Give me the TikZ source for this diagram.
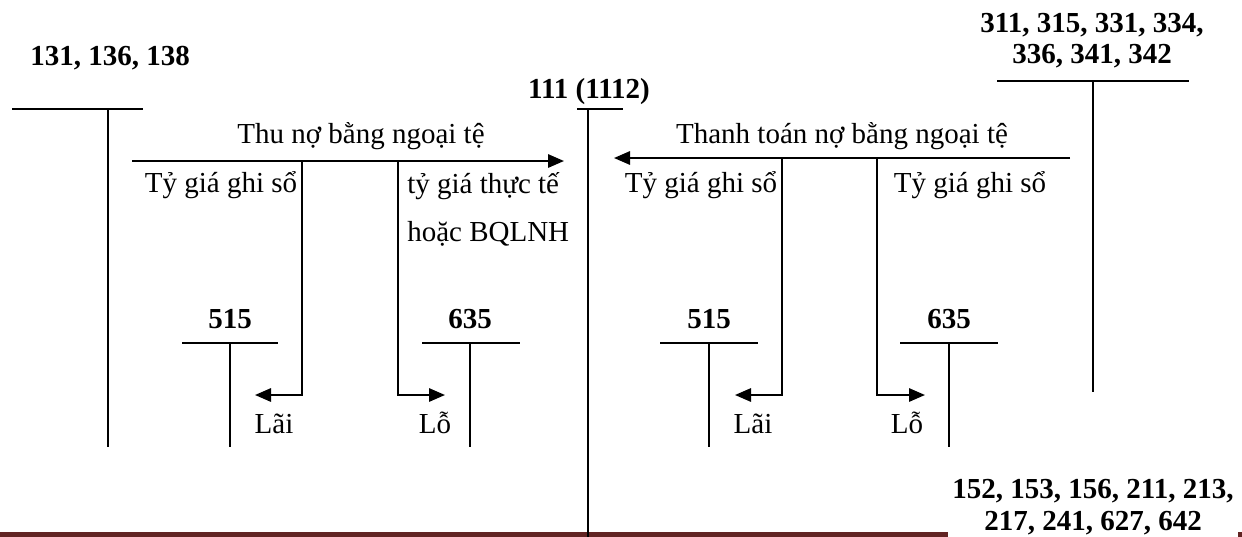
\documentclass[tikz,border=0pt]{standalone}
\usepackage{fontspec}
\setmainfont{Liberation Serif}
\usetikzlibrary{arrows.meta}
\definecolor{footrule}{HTML}{622423}
\begin{document}
\begin{tikzpicture}[x=0.75pt,y=-0.75pt,
  tline/.style={line width=1.5pt},
  flow/.style={line width=1.5pt,-{Triangle[length=12pt,width=10pt]}},
  acct/.style={font=\fontsize{21.75pt}{23.5pt}\selectfont\bfseries,anchor=base,inner sep=0pt,align=center},
  note/.style={font=\fontsize{21.75pt}{23.5pt}\selectfont,anchor=base,inner sep=0pt},
]
\useasboundingbox (0,0) rectangle (1242,536);

% footer rule of the page
\fill[footrule] (0,532) rectangle (1242,537);

% account labels
\node[acct] (l131) at (110,65) {131, 136, 138};
\node[acct] (l111) at (589,98) {111 (1112)};
\node[acct] (l311a) at (1092,32) {311, 315, 331, 334,};
\node[acct] (l311b) at (1092,63) {336, 341, 342};
\node[acct] (l515a) at (230,328) {515};
\node[acct] (l635a) at (470,328) {635};
\node[acct] (l515b) at (709,328) {515};
\node[acct] (l635b) at (949,328) {635};
\fill[white] (948,470) rectangle (1238,537);
\node[acct] (l152a) at (1093,498) {152, 153, 156, 211, 213,};
\node[acct] (l152b) at (1093,530) {217, 241, 627, 642};

% T-accounts
\coordinate (c131) at (108,109);
\draw[tline] (12,109) -- (143,109);
\draw[tline] (c131) -- (108,447);

\coordinate (c111) at (588,109);
\draw[tline] (577,109) -- (623,109);
\draw[tline] (c111) -- (588,537);

\coordinate (c311) at (1093,81);
\draw[tline] (997,81) -- (1189,81);
\draw[tline] (c311) -- (1093,392);

\foreach \x/\l/\r in {230/182/278, 470/422/520, 709/660/758, 949/900/998}{
  \draw[tline] (\l,343) -- (\r,343);
  \draw[tline] (\x,343) -- (\x,447);
}

% collection of receivables in foreign currency
\coordinate (inL) at (132,161);
\coordinate (inR) at (564,161);
\draw[flow] (inL) -- (inR);
\node[note] (tin) at (361,143) {Thu nợ bằng ngoại tệ};
\node[note] (tin1) at (221,192) {Tỷ giá ghi sổ};
\node[note,anchor=base west] (tin2) at (407,193) {tỷ giá thực tế};
\node[note,anchor=base west] (tin3) at (407,241) {hoặc BQLNH};
\coordinate (g1) at (302,161);
\coordinate (g1e) at (255,395);
\draw[flow] (g1) |- (g1e);
\coordinate (g2) at (398,161);
\coordinate (g2e) at (445,395);
\draw[flow] (g2) |- (g2e);
\node[note] (lai1) at (274,433) {Lãi};
\node[note] (lo1) at (435,433) {Lỗ};

% settlement of payables in foreign currency
\coordinate (outR) at (1070,158);
\coordinate (outL) at (614,158);
\draw[flow] (outR) -- (outL);
\node[note] (tout) at (842,143) {Thanh toán nợ bằng ngoại tệ};
\node[note] (tout1) at (701,192) {Tỷ giá ghi sổ};
\node[note] (tout2) at (970,192) {Tỷ giá ghi sổ};
\coordinate (h1) at (782,158);
\coordinate (h1e) at (735,395);
\draw[flow] (h1) |- (h1e);
\coordinate (h2) at (877,158);
\coordinate (h2e) at (925,395);
\draw[flow] (h2) |- (h2e);
\node[note] (lai2) at (753,433) {Lãi};
\node[note] (lo2) at (907,433) {Lỗ};
\end{tikzpicture}
\end{document}
